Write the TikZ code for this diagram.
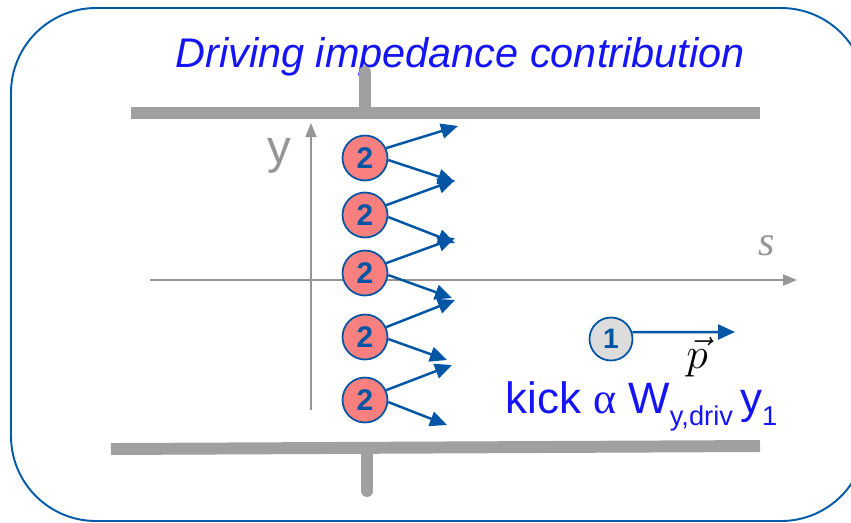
\documentclass[tikz,border=0pt]{standalone}
\usepackage{fontspec}
\setmainfont{Liberation Sans}
\newfontfamily\timesfont{Liberation Serif}
\usetikzlibrary{arrows.meta,positioning}
\definecolor{frameblue}{RGB}{0,90,170}
\definecolor{beamblue}{RGB}{0,85,165}
\definecolor{textblue}{RGB}{20,20,245}
\definecolor{pipegray}{RGB}{160,160,160}
\definecolor{axisgray}{RGB}{150,150,150}
\definecolor{beadred}{RGB}{250,128,128}
\definecolor{beadgray}{RGB}{220,220,220}
\newcommand{\lowsub}[1]{\raisebox{-0.28em}{\fontsize{15.5}{15.5}\selectfont #1}}

\begin{document}
\begin{tikzpicture}[x=0.02cm,y=-0.02cm,
  every node/.style={inner sep=0pt},
  bead/.style={circle,draw=beamblue,line width=1pt,minimum size=0.9cm,text=beamblue,font=\fontsize{17}{17}\selectfont\bfseries},
  kick/.style={draw=beamblue,line width=1.4pt,-{Triangle[length=0.34cm,width=0.3cm]}},
  wall/.style={pipegray,line width=6.8pt},
  axis/.style={axisgray,line width=1.1pt,-{Triangle[length=0.28cm,width=0.22cm]}}]
\clip (0,0) rectangle (851,522);
% frame
\draw[frameblue,line width=1.1pt,rounded corners=1.7cm] (11,8) rectangle (866,521);
\node[anchor=base,text=textblue,font=\fontsize{23.6}{23.6}\selectfont\itshape] (title) at (460,67) {Driving impedance contribution};

% pipe walls
\draw[wall] (131,113) -- (760,113);
\draw[wall,line cap=round] (365,72) -- (365,110);
\draw[wall] (111,449) -- (760,446);
\draw[wall,line cap=round] (367,453) -- (367,491);

% axes
\draw[axis] (150,280) -- (797,280);
\draw[axis] (311,410) -- (311,123);
\node[anchor=base,text=axisgray,font=\fontsize{27}{27}\selectfont] (ylab) at (279,163) {y};
\node[anchor=base,text=axisgray,font=\timesfont\itshape\fontsize{24}{24}\selectfont] (slab) at (767,255) {s};

% driving beads, each kicked up and down
\foreach \i/\yc/\ux/\uy/\dx/\dy in {1/158/458/126/455/182, 2/215/455/180/455/243,
    3/273/455/238/452/298, 4/337/455/300/447/360, 5/400/452/365/447/425}{
  \node[bead,fill=beadred] (b\i) at (365,\yc) {2};
  \coordinate (u\i) at (\ux,\uy);
  \coordinate (d\i) at (\dx,\dy);
  \draw[kick] (b\i.25) -- (u\i);
  \draw[kick] (b\i.-5) -- (d\i);
}

% witness particle
\node[bead,fill=beadgray,minimum size=0.86cm,font=\fontsize{16}{16}\selectfont\bfseries] (b0) at (611,339) {1};
\coordinate (ptip) at (735,332);
\draw[kick] (b0.18) -- (ptip);
\node[anchor=base,font=\fontsize{24}{24}\selectfont] (pvec) at (697,368) {$\vec{p}$};
\node[anchor=base west,text=textblue,font=\fontsize{25}{25}\selectfont] (kick) at (505,413)
  {kick {\timesfont α} W\lowsub{y,driv}\,y\lowsub{1}};
\end{tikzpicture}
\end{document}
